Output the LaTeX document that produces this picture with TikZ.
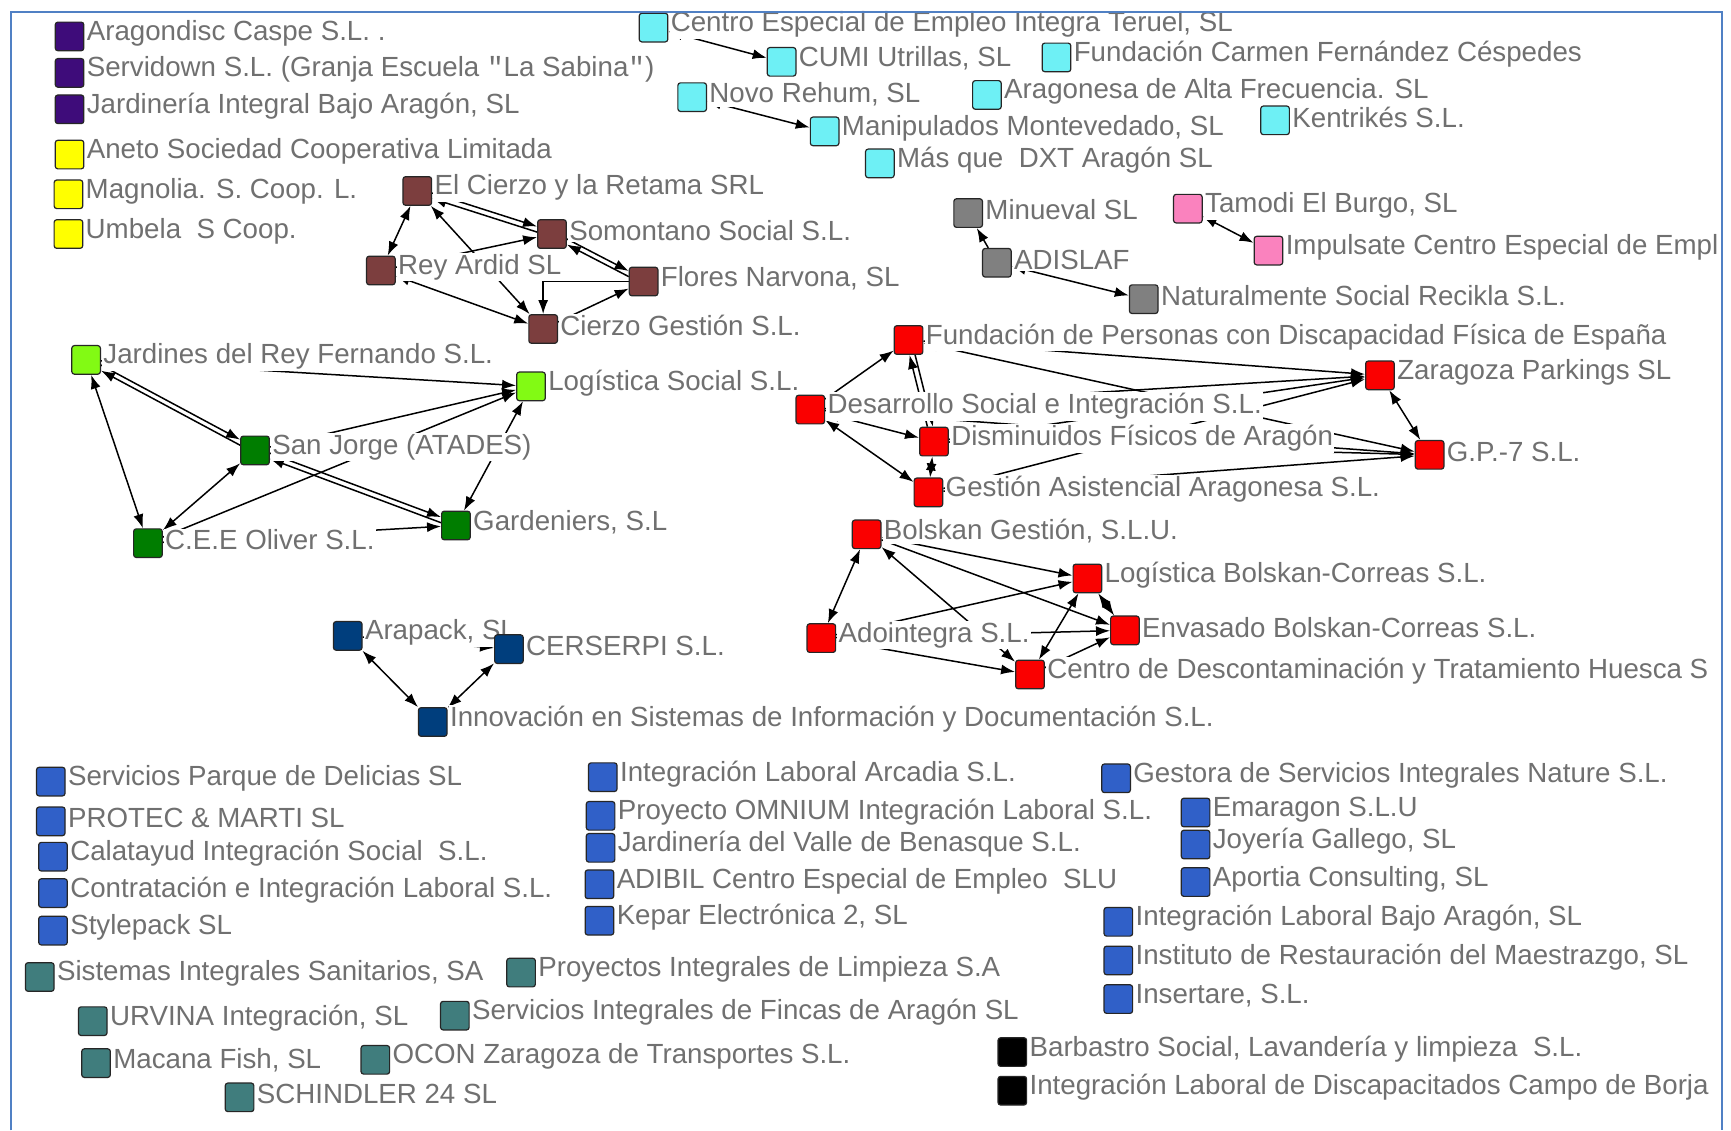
\documentclass[tikz,border=0pt]{standalone}
\usepackage{fontspec}
\setmainfont{Liberation Sans}
\setmonofont{Liberation Mono}
\usetikzlibrary{arrows.meta}
\definecolor{cpurple}{RGB}{62,12,122}
\definecolor{cyellow}{RGB}{255,255,0}
\definecolor{cbrown}{RGB}{124,62,62}
\definecolor{ccyan}{RGB}{110,240,245}
\definecolor{cgray}{RGB}{128,128,128}
\definecolor{cpink}{RGB}{250,130,190}
\definecolor{clgreen}{RGB}{130,250,20}
\definecolor{cdgreen}{RGB}{0,125,0}
\definecolor{cred}{RGB}{250,0,0}
\definecolor{cnavy}{RGB}{0,62,125}
\definecolor{cblue}{RGB}{48,96,200}
\definecolor{cteal}{RGB}{64,125,125}
\definecolor{cblack}{RGB}{0,0,0}
\definecolor{txtgray}{RGB}{112,112,112}
\definecolor{framecol}{RGB}{80,128,196}
\pgfdeclarelayer{paperlayer}
\pgfdeclarelayer{edgelayer}
\pgfsetlayers{paperlayer,edgelayer,main}
\newcommand\dq{\texttt{"}}
\newcommand\orgnode[5]{\node[sq=#2] (#1) at (#3,#4) {}; \node[lab] at (#1.east) {#5};}
\newcommand\twoway[4]{%
  \draw[ed,transform canvas={shift={(#3,#4)}}] (#1) -- (#2);
  \draw[ed,transform canvas={shift={(-#3,-#4)}}] (#2) -- (#1);}
\begin{document}
\begin{tikzpicture}[x=0.552pt,y=-0.552pt,
  sq/.style={draw=black!85, line width=0.6pt, rounded corners=1.3pt, minimum size=14.3pt, inner sep=0pt, fill=#1},
  lab/.style={anchor=west, text=txtgray, fill=white, inner sep=0.6pt, font=\fontsize{13.85pt}{15pt}\selectfont, yshift=1.6pt, xshift=0.4pt},
  ed/.style={line width=0.75pt, -{Latex[length=7pt,width=5pt]}},
  bi/.style={line width=0.75pt, {Latex[length=7pt,width=5pt]}-{Latex[length=7pt,width=5pt]}},
]
\useasboundingbox (0,0) rectangle (1568,1024);
\begin{pgfonlayer}{paperlayer}
\fill[white] (0,0) rectangle (1568,1024);
\end{pgfonlayer}
\begin{scope}
\clip (0,0) rectangle (1560,1024);
% purple
\orgnode{P1}{cpurple}{63}{33}{Aragondisc Caspe S.L. .}
\orgnode{P2}{cpurple}{63}{66}{Servidown S.L. (Granja Escuela \dq La Sabina\dq)}
\orgnode{P3}{cpurple}{63}{99}{Jardinería Integral Bajo Aragón, SL}
% yellow
\orgnode{Y1}{cyellow}{63}{140}{Aneto Sociedad Cooperativa Limitada}
\orgnode{Y2}{cyellow}{62}{176}{Magnolia. S. Coop. L.}
\orgnode{Y3}{cyellow}{62}{212}{Umbela\ \ S Coop.}
% brown
\orgnode{B1}{cbrown}{378}{173}{El Cierzo y la Retama SRL}
\orgnode{B2}{cbrown}{500}{212}{Somontano Social S.L.}
\orgnode{B3}{cbrown}{345}{245}{Rey Ardid SL}
\orgnode{B4}{cbrown}{583}{255}{Flores Narvona, SL}
\orgnode{B5}{cbrown}{492}{298}{Cierzo Gestión S.L.}
% cyan
\orgnode{C1}{ccyan}{592}{25}{Centro Especial de Empleo Integra Teruel, SL}
\orgnode{C2}{ccyan}{708}{56}{CUMI Utrillas, SL}
\orgnode{C3}{ccyan}{957}{52}{Fundación Carmen Fernández Céspedes}
\orgnode{C4}{ccyan}{627}{88}{Novo Rehum, SL}
\orgnode{C5}{ccyan}{894}{86}{Aragonesa de Alta Frecuencia. SL}
\orgnode{C6}{ccyan}{1155}{109}{Kentrikés S.L.}
\orgnode{C7}{ccyan}{747}{119}{Manipulados Montevedado, SL}
\orgnode{C8}{ccyan}{797}{148}{Más que\ \ DXT Aragón SL}
% gray
\orgnode{G1}{cgray}{877}{193}{Minueval SL}
\orgnode{G2}{cgray}{903}{238}{ADISLAF}
\orgnode{G3}{cgray}{1036}{271}{Naturalmente Social Recikla S.L.}
% pink
\orgnode{K1}{cpink}{1076}{189}{Tamodi El Burgo, SL}
\orgnode{K2}{cpink}{1149}{227}{Impulsate Centro Especial de Empl}
% greens
\orgnode{L1}{clgreen}{78}{326}{Jardines del Rey Fernando S.L.}
\orgnode{L2}{clgreen}{481}{350}{Logística Social S.L.}
\orgnode{D1}{cdgreen}{231}{408}{San Jorge (ATADES)}
\orgnode{D2}{cdgreen}{134}{492}{C.E.E Oliver S.L.}
\orgnode{D3}{cdgreen}{413}{476}{Gardeniers, S.L}
% red
\orgnode{R1}{cred}{823}{308}{Fundación de Personas con Discapacidad Física de España}
\orgnode{R2}{cred}{1250}{340}{Zaragoza Parkings SL}
\orgnode{R3}{cred}{734}{371}{Desarrollo Social e Integración S.L.}
\orgnode{R4}{cred}{846}{400}{Disminuidos Físicos de Aragón}
\orgnode{R5}{cred}{1295}{412}{G.P.-7 S.L.}
\orgnode{R6}{cred}{841}{446}{Gestión Asistencial Aragonesa S.L.}
\orgnode{R7}{cred}{785}{484}{Bolskan Gestión, S.L.U.}
\orgnode{R8}{cred}{985}{524}{Logística Bolskan-Correas S.L.}
\orgnode{R9}{cred}{744}{578}{Adointegra S.L.}
\orgnode{R10}{cred}{1019}{571}{Envasado Bolskan-Correas S.L.}
\orgnode{R11}{cred}{933}{611}{Centro de Descontaminación y Tratamiento Huesca S}
% navy
\orgnode{N1}{cnavy}{315}{576}{Arapack, SL}
\orgnode{N2}{cnavy}{461}{588}{CERSERPI S.L.}
\orgnode{N3}{cnavy}{392}{654}{Innovación en Sistemas de Información y Documentación S.L.}
% blue
\orgnode{U1}{cblue}{46}{708}{Servicios Parque de Delicias SL}
\orgnode{U2}{cblue}{46}{744}{PROTEC \& MARTI SL}
\orgnode{U3}{cblue}{48}{776}{Calatayud Integración Social\ \ S.L.}
\orgnode{U4}{cblue}{48}{809}{Contratación e Integración Laboral S.L.}
\orgnode{U5}{cblue}{48}{843}{Stylepack SL}
\orgnode{U6}{cblue}{546}{704}{Integración Laboral Arcadia S.L.}
\orgnode{U7}{cblue}{544}{739}{Proyecto OMNIUM Integración Laboral S.L.}
\orgnode{U8}{cblue}{544}{768}{Jardinería del Valle de Benasque S.L.}
\orgnode{U9}{cblue}{543}{801}{ADIBIL Centro Especial de Empleo\ \ SLU}
\orgnode{U10}{cblue}{543}{834}{Kepar Electrónica 2, SL}
\orgnode{U11}{cblue}{1011}{705}{Gestora de Servicios Integrales Nature S.L.}
\orgnode{U12}{cblue}{1083}{736}{Emaragon S.L.U}
\orgnode{U13}{cblue}{1083}{765}{Joyería Gallego, SL}
\orgnode{U14}{cblue}{1083}{799}{Aportia Consulting, SL}
\orgnode{U15}{cblue}{1013}{835}{Integración Laboral Bajo Aragón, SL}
\orgnode{U16}{cblue}{1013}{870}{Instituto de Restauración del Maestrazgo, SL}
\orgnode{U17}{cblue}{1013}{905}{Insertare, S.L.}
% teal
\orgnode{T1}{cteal}{36}{885}{Sistemas Integrales Sanitarios, SA}
\orgnode{T2}{cteal}{472}{881}{Proyectos Integrales de Limpieza S.A}
\orgnode{T3}{cteal}{84}{925}{URVINA Integración, SL}
\orgnode{T4}{cteal}{412}{920}{Servicios Integrales de Fincas de Aragón SL}
\orgnode{T5}{cteal}{87}{963}{Macana Fish, SL}
\orgnode{T6}{cteal}{340}{960}{OCON Zaragoza de Transportes S.L.}
\orgnode{T7}{cteal}{217}{994}{SCHINDLER 24 SL}
% black
\orgnode{X1}{cblack}{917}{953}{Barbastro Social, Lavandería y limpieza\ \ S.L.}
\orgnode{X2}{cblack}{917}{988}{Integración Laboral de Discapacitados Campo de Borja}
\end{scope}
\begin{pgfonlayer}{edgelayer}
% brown
\draw[bi] (B1) -- (B3);
\twoway{B1}{B2}{0pt}{1.4pt}
\draw[bi] (B1) -- (B5);
\draw[ed] (B3) -- (B2);
\draw[bi] (B3) -- (B5);
\twoway{B2}{B4}{0pt}{1.4pt}
\draw[ed] (B4) -| (B5);
\draw[ed] (B5) -- (B4);
% cyan, gray, pink
\draw[bi] (C1) -- (C2);
\draw[bi] (C4) -- (C7);
\draw[ed] (G2) -- (G1);
\draw[bi] (G2) -- (G3);
\draw[bi] (K1) -- (K2);
% greens
\draw[bi] (L1) -- (D2);
\twoway{L1}{D1}{0pt}{1.4pt}
\draw[ed] (L1) -- (L2);
\draw[ed] (D1) -- (L2);
\draw[ed] (D2) -- (L2);
\draw[bi] (L2) -- (D3);
\draw[bi] (D2) -- (D1);
\twoway{D1}{D3}{0pt}{1.4pt}
\draw[ed] (D2) -- (D3);
% red upper
\draw[ed] (R3) -- (R1);
\twoway{R1}{R4}{1.4pt}{0pt}
\draw[ed] (R1) -- (R2);
\draw[bi] (R1) -- (R5);
\draw[ed] (R3) -- (R2);
\draw[ed] (R4) -- (R2);
\draw[ed] (R6) -- (R2);
\draw[bi] (R2) -- (R5);
\draw[ed] (R4) -- (R5);
\draw[ed] (R6) -- (R5);
\draw[ed] (R3) -- (R5);
\draw[bi] (R3) -- (R4);
\draw[bi] (R3) -- (R6);
\draw[bi] (R4) -- (R6);
% red lower
\draw[bi] (R7) -- (R9);
\draw[bi] (R7) -- (R8);
\draw[ed] (R7) -- (R10);
\draw[bi] (R7) -- (R11);
\draw[ed] (R9) -- (R8);
\draw[ed] (R9) -- (R10);
\draw[bi] (R9) -- (R11);
\draw[bi] (R8) -- (R11);
\draw[bi] (R8) -- (R10);
\draw[ed] (R11) -- (R10);
% navy
\draw[ed] (N1) -- (N2);
\draw[bi] (N1) -- (N3);
\draw[bi] (N3) -- (N2);
\end{pgfonlayer}
\draw[framecol, line width=1pt] (10,1024) -- (10,11) -- (1560,11) -- (1560,1024);
\end{tikzpicture}
\end{document}
